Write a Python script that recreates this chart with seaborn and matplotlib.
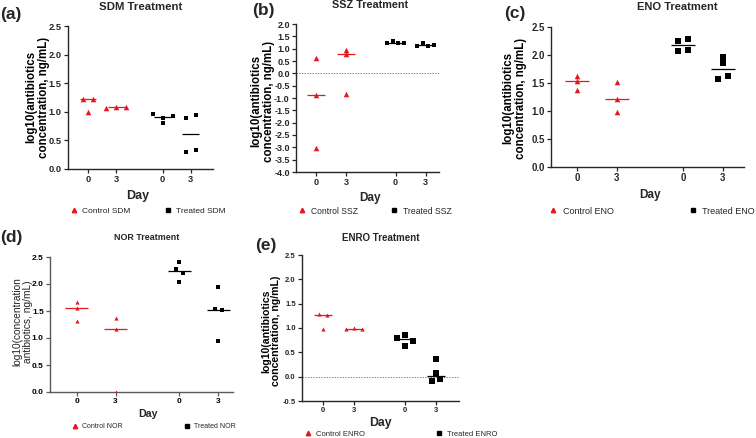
import numpy as np
import pandas as pd
import matplotlib
matplotlib.use("Agg")
import matplotlib.pyplot as plt
import seaborn as sns
from matplotlib.lines import Line2D

# ---- data (log10 concentration, ng/mL) ----
day_labels = ["0", "3", "0", "3"]

sdm_ctrl_d0 = [1.22, 0.99, 1.22]
sdm_ctrl_d3 = [1.06, 1.09, 1.08]
sdm_trt_d0 = [0.97, 0.90, 0.81, 0.92]
sdm_trt_d3 = [0.90, 0.94, 0.30, 0.34]

ssz_ctrl_d0 = [0.64, -0.89, -3.01]
ssz_ctrl_d3 = [0.96, 0.77, -0.84]
ssz_trt_d0 = [1.21, 1.30, 1.25, 1.25]
ssz_trt_d3 = [1.10, 1.21, 1.12, 1.15]

eno_ctrl_d0 = [1.63, 1.53, 1.38]
eno_ctrl_d3 = [1.51, 1.21, 0.99]
eno_trt_d0 = [2.25, 2.28, 2.07, 2.09]
eno_trt_d3 = [1.97, 1.86, 1.58, 1.63]

nor_ctrl_d0 = [1.67, 1.55, 1.32]
nor_ctrl_d3 = [1.37, 1.17, 0.00]
nor_trt_d0 = [2.41, 2.27, 2.20, 2.04]
nor_trt_d3 = [1.94, 1.53, 1.51, 0.95]

enro_ctrl_d0 = [1.28, 1.26, 0.98]
enro_ctrl_d3 = [0.97, 1.01, 0.97]
enro_trt_d0 = [0.80, 0.85, 0.74, 0.64]
enro_trt_d3 = [0.37, 0.07, -0.09, -0.05]

# ---- layout / style ----
W, H = 756, 438
RED = "#e8161e"
POS = [0, 1, 2.65, 3.65]
HALF = 0.3  # half width of median line


def fx(x):
    return x / W


def fy(y):
    return 1 - y / H


panels = [
    dict(letter="(a)", drug="SDM", title="SDM Treatment",
         groups=[sdm_ctrl_d0, sdm_ctrl_d3, sdm_trt_d0, sdm_trt_d3],
         ylabel="log10(antibiotics\nconcentration, ng/mL)",
         rect=(68, 26, 213, 169), xlim=(-0.71, 4.44), ylim=(0, 2.5), zero=False,
         letter_xy=(0, 14), title_xy=(141, 6.5), title_fs=8.2, tick_fs=6.7,
         ylab_xy=(37.5, 97), ylab_fs=8.3, ylab_w="bold",
         day_xy=(138, 199), day_fs=9,
         leg=(70, 226, 211), leg_fs=6,
         ms_ctrl=16, ms_trt=10, step=10, gray=False),
    dict(letter="(b)", drug="SSZ", title="SSZ Treatment",
         groups=[ssz_ctrl_d0, ssz_ctrl_d3, ssz_trt_d0, ssz_trt_d3],
         ylabel="log10(antibiotics\nconcentration, ng/mL)",
         rect=(296, 24, 439, 172), xlim=(-0.67, 4.1), ylim=(-4, 2), zero=True,
         letter_xy=(252, 11), title_xy=(370, 5.5), title_fs=7.8, tick_fs=6.5,
         ylab_xy=(262.5, 101), ylab_fs=8.3, ylab_w="bold",
         day_xy=(370, 201), day_fs=8.5,
         leg=(298, 452, 211), leg_fs=6.2,
         ms_ctrl=16, ms_trt=6, step=5.5, gray=False),
    dict(letter="(c)", drug="ENO", title="ENO Treatment",
         groups=[eno_ctrl_d0, eno_ctrl_d3, eno_trt_d0, eno_trt_d3],
         ylabel="log10(antibiotics\nconcentration, ng/mL)",
         rect=(551, 27, 744, 167), xlim=(-0.65, 4.18), ylim=(0, 2.5), zero=False,
         letter_xy=(504, 13.5), title_xy=(677, 6.5), title_fs=8.0, tick_fs=6.9,
         ylab_xy=(514.5, 98), ylab_fs=8.3, ylab_w="bold",
         day_xy=(650, 198), day_fs=8.5,
         leg=(549, 755, 211), leg_fs=6.5,
         ms_ctrl=16, ms_trt=16, step=9.5, gray=False),
    dict(letter="(d)", drug="NOR", title="NOR Treatment",
         groups=[nor_ctrl_d0, nor_ctrl_d3, nor_trt_d0, nor_trt_d3],
         ylabel="log10(concentration\nantibiotics, ng/mL)",
         rect=(50, 257, 233, 392), xlim=(-0.69, 4.03), ylim=(0, 2.5), zero=False,
         letter_xy=(0, 237), title_xy=(147, 238), title_fs=6.4, tick_fs=6.0,
         ylab_xy=(22.5, 322), ylab_fs=7.3, ylab_w="normal",
         day_xy=(148, 417), day_fs=7.7,
         leg=(72, 236, 427), leg_fs=5,
         ms_ctrl=9, ms_trt=12, step=7.5, gray=True),
    dict(letter="(e)", drug="ENRO", title="ENRO Treatment",
         groups=[enro_ctrl_d0, enro_ctrl_d3, enro_trt_d0, enro_trt_d3],
         ylabel="log10(antibiotics\nconcentration, ng/mL)",
         rect=(302, 255, 459, 401), xlim=(-0.68, 4.4), ylim=(-0.5, 2.5), zero=True,
         letter_xy=(255, 245), title_xy=(381, 238), title_fs=7, tick_fs=5.5,
         ylab_xy=(271, 331), ylab_fs=7.6, ylab_w="bold",
         day_xy=(380, 426), day_fs=8.8,
         leg=(305, 498, 434), leg_fs=5.5,
         ms_ctrl=9, ms_trt=13, step=8, gray=False),
]


def spread(values, thresh, step):
    # simple beeswarm: values closer than thresh share a row, row centred on the day
    v = np.asarray(values, float)
    order = np.argsort(v, kind="stable")
    rows, cur = [], [order[0]]
    for a, b in zip(order[:-1], order[1:]):
        if v[b] - v[a] < thresh:
            cur.append(b)
        else:
            rows.append(cur)
            cur = [b]
    rows.append(cur)
    off = np.zeros(len(v))
    for r in rows:
        r = sorted(r)
        for k, i in enumerate(r):
            off[i] = (k - (len(r) - 1) / 2) * step
    return off


sns.set_style("ticks")
plt.rcParams["font.family"] = ["Liberation Sans", "DejaVu Sans"]
plt.rcParams["axes.linewidth"] = 1.0

fig = plt.figure(figsize=(W / 100, H / 100), dpi=100)

for p in panels:
    l, t, r, b = p["rect"]
    ax = fig.add_axes([fx(l), fy(b), fx(r) - fx(l), (b - t) / H])
    ax.set_xlim(*p["xlim"])
    ax.set_ylim(*p["ylim"])
    ax.set_facecolor("none")

    # pixel scale of this axes, used for spreading the points
    (x0, y0), (x1, y1) = ax.transData.transform([(0, 0), (1, 1)])
    px_x, px_y = x1 - x0, y1 - y0

    rows = []
    for gi, vals in enumerate(p["groups"]):
        grp = "Control" if gi < 2 else "Treated"
        off = spread(vals, 4.5 / px_y, p["step"] / px_x)
        for v, o in zip(vals, off):
            rows.append(dict(group=grp, slot=gi, value=v, x=POS[gi] + o))
    df = pd.DataFrame(rows)

    if p["zero"]:
        ax.axhline(0, color="#808080", lw=0.8, ls=(0, (1.2, 1.2)), zorder=1)

    # median lines
    med = df.groupby("slot")["value"].median()
    for gi, m in med.items():
        c = RED if gi < 2 else "black"
        ax.hlines(m, POS[gi] - HALF, POS[gi] + HALF, color=c, lw=0.9, zorder=2)

    ctrl = df[df.group == "Control"]
    trt = df[df.group == "Treated"]
    sns.scatterplot(data=ctrl, x="x", y="value", marker="^", color=RED, s=p["ms_ctrl"],
                    linewidth=0, ax=ax, legend=False, zorder=3)
    sns.scatterplot(data=trt, x="x", y="value", marker="s", color="black", s=p["ms_trt"],
                    linewidth=0, ax=ax, legend=False, zorder=3)

    ax.set_xlim(*p["xlim"])
    ax.set_ylim(*p["ylim"])
    sns.despine(ax=ax)

    yt = np.arange(p["ylim"][0], p["ylim"][1] + 0.01, 0.5)
    ax.set_yticks(yt)
    ax.set_yticklabels([f"{v:.1f}" for v in yt], fontweight="bold")
    ax.set_xticks(POS)
    ax.set_xticklabels(day_labels, fontweight="bold")
    ax.tick_params(axis="both", length=3, width=0.9, labelsize=p["tick_fs"], pad=1.5)

    if p["gray"]:
        for s in ax.spines.values():
            s.set_color("#5a5a5a")
        ax.tick_params(colors="#5a5a5a", labelcolor="black")

    ax.set_xlabel("Day", fontsize=p["day_fs"], fontweight="bold", va="baseline")
    ax.xaxis.set_label_coords(fx(p["day_xy"][0]), fy(p["day_xy"][1]), transform=fig.transFigure)
    ax.set_ylabel(p["ylabel"], fontsize=p["ylab_fs"], fontweight=p["ylab_w"],
                  ha="center", va="center", linespacing=1.05,
                  color="#222222" if p["ylab_w"] == "normal" else "black")
    ax.yaxis.set_label_coords(fx(p["ylab_xy"][0]), fy(p["ylab_xy"][1]), transform=fig.transFigure)

    fig.text(fx(p["title_xy"][0]), fy(p["title_xy"][1]), p["title"], ha="center", va="center",
             fontsize=p["title_fs"], fontweight="bold")
    fig.text(fx(p["letter_xy"][0]), fy(p["letter_xy"][1]), p["letter"], ha="left", va="center",
             fontsize=12.5, fontweight="bold")

    handles = [Line2D([], [], marker="^", color=RED, ls="none", markersize=3.2),
               Line2D([], [], marker="s", color="black", ls="none", markersize=2.8)]
    lx0, lx1, ly = p["leg"]
    ax.legend(handles, [f"Control {p['drug']}", f"Treated {p['drug']}"], ncol=2, mode="expand",
              loc="center", bbox_to_anchor=(fx(lx0), fy(ly) - 0.01, fx(lx1) - fx(lx0), 0.02),
              bbox_transform=fig.transFigure, frameon=False, borderaxespad=0, borderpad=0,
              handlelength=0.9, handletextpad=0.6, fontsize=p["leg_fs"])

fig.savefig("out.png", dpi=100)
